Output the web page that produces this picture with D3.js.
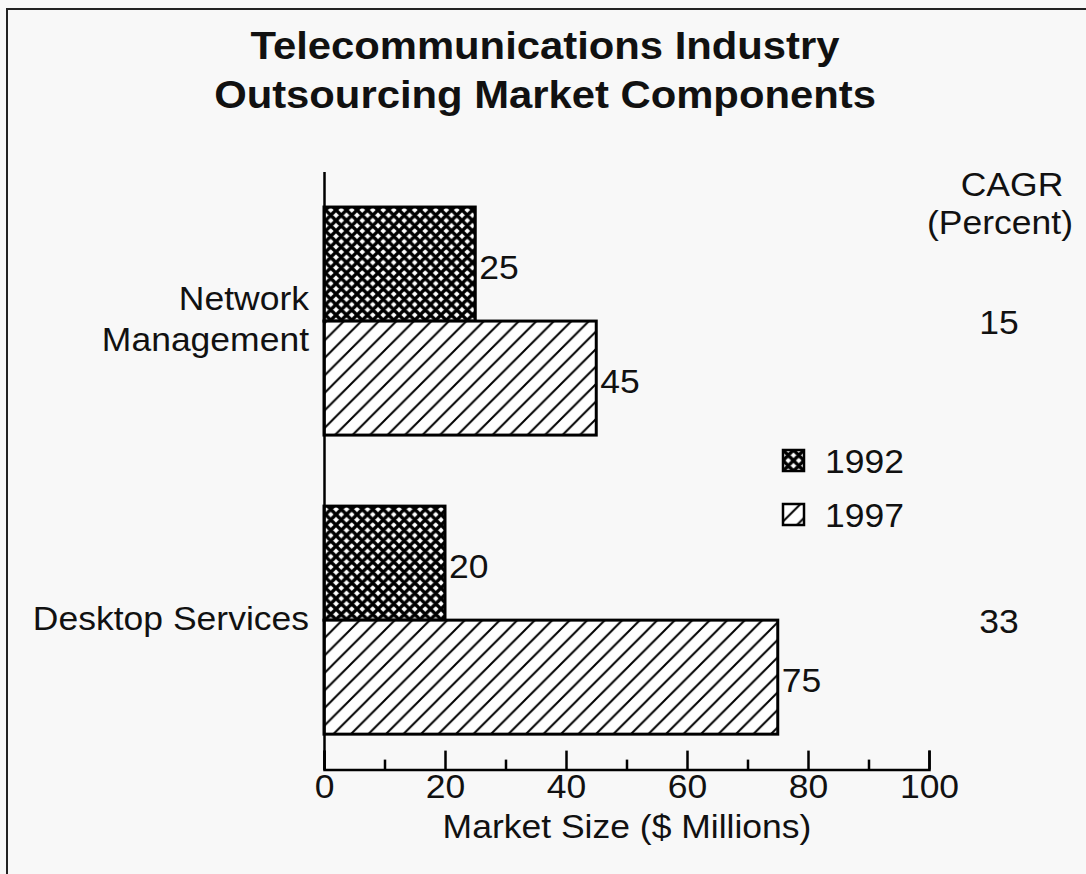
<!DOCTYPE html>
<html>
<head>
<meta charset="utf-8">
<script src="https://cdn.jsdelivr.net/npm/d3@7"></script>
<style>
  html, body { margin: 0; padding: 0; background: #f8f8f8; }
  svg { display: block; }
  text { font-family: "Liberation Sans", Arial, Helvetica, sans-serif; fill: #111; }
</style>
</head>
<body>
<svg id="chart" width="1086" height="874"></svg>
<script>
// ---- data ----
const categories = ["Network Management", "Desktop Services"];
const categoryLines = [["Network", "Management"], ["Desktop Services"]];
const years = ["1992", "1997"];
const values1992 = [25, 20];
const values1997 = [45, 75];
const cagr = [15, 33];
const majorTicks = [0, 20, 40, 60, 80, 100];
const minorTicks = [10, 30, 50, 70, 90];
const titleLines = ["Telecommunications Industry", "Outsourcing Market Components"];
const xTitle = "Market Size ($ Millions)";
const cagrTitle = ["CAGR", "(Percent)"];

const svg = d3.select("#chart");
const W = 1086, H = 874;
const FS = 33.5, SX = 1.06;        // body font size and horizontal stretch
const TFS = 38, TSX = 1.1;         // title

svg.append("rect").attr("width", W).attr("height", H).attr("fill", "#f8f8f8");
svg.append("rect").attr("x", 7).attr("y", 9).attr("width", W + 20).attr("height", H + 20)
  .attr("fill", "none").attr("stroke", "#222").attr("stroke-width", 2);

function addText(parent, x, y, str, opts = {}) {
  const t = parent.append("text")
    .attr("transform", `translate(${x},${y}) scale(${opts.sx || SX},1)`)
    .attr("dy", "0.35em")
    .attr("text-anchor", opts.anchor || "start")
    .attr("font-size", opts.size || FS)
    .text(str);
  if (opts.weight) t.attr("font-weight", opts.weight);
  return t;
}

// patterns
const defs = svg.append("defs");
const cross = defs.append("pattern").attr("id", "cross").attr("patternUnits", "userSpaceOnUse")
  .attr("width", 10.5).attr("height", 10.5);
cross.append("rect").attr("width", 10.5).attr("height", 10.5).attr("fill", "#fff");
cross.append("path").attr("d", "M0,0 L10.5,10.5 M10.5,0 L0,10.5 M-5.25,5.25 L0,10.5 M5.25,-5.25 L10.5,0 M-5.25,5.25 L0,0 M5.25,15.75 L10.5,10.5")
  .attr("stroke", "#000").attr("stroke-width", 3.4);
const hatch = defs.append("pattern").attr("id", "hatch").attr("patternUnits", "userSpaceOnUse")
  .attr("width", 17.5).attr("height", 17.5);
hatch.append("rect").attr("width", 17.5).attr("height", 17.5).attr("fill", "#fff");
hatch.append("path").attr("d", "M0,17.5 L17.5,0 M-4,4 L4,-4 M13.5,21.5 L21.5,13.5")
  .attr("stroke", "#000").attr("stroke-width", 2);
const fills = {"1992": "url(#cross)", "1997": "url(#hatch)"};

// scales
const x = d3.scaleLinear().domain([0, 100]).range([324, 929]);
const y = d3.scaleBand().domain(categories).range([171.6, 769.6]).paddingInner(0.2375).paddingOuter(0.1185);
const yInner = d3.scaleBand().domain(years).range([0, y.bandwidth()]);

const rows = [];
categories.forEach((c, i) => {
  rows.push({cat: c, year: "1992", v: values1992[i]});
  rows.push({cat: c, year: "1997", v: values1997[i]});
});

// bars
svg.append("g").selectAll("rect").data(rows).join("rect")
  .attr("x", x(0))
  .attr("y", d => y(d.cat) + yInner(d.year))
  .attr("width", d => x(d.v) - x(0))
  .attr("height", yInner.bandwidth())
  .attr("fill", d => fills[d.year])
  .attr("stroke", "#000").attr("stroke-width", 3);

// value labels
const gv = svg.append("g");
rows.forEach(d => addText(gv, x(d.v) + 4, y(d.cat) + yInner(d.year) + yInner.bandwidth() / 2 + 3, d.v));

// x axis
const axisY = 769.6;
const gx = svg.append("g").attr("transform", `translate(0,${axisY})`)
  .call(d3.axisBottom(x).tickValues(majorTicks).tickSizeInner(-19).tickSizeOuter(-19).tickPadding(5));
gx.select(".domain").attr("stroke", "#000").attr("stroke-width", 2.5);
gx.selectAll(".tick line").attr("stroke", "#000").attr("stroke-width", 2.5);
gx.selectAll(".tick text").attr("font-size", FS).attr("font-family", "Liberation Sans, Arial, sans-serif")
  .attr("fill", "#111").attr("transform", `scale(${SX},1)`);
const gxm = svg.append("g").attr("transform", `translate(0,${axisY})`)
  .call(d3.axisBottom(x).tickValues(minorTicks).tickSize(-10).tickFormat(""));
gxm.select(".domain").remove();
gxm.selectAll(".tick line").attr("stroke", "#000").attr("stroke-width", 2.5);

// y axis line
const gy = svg.append("g").attr("transform", `translate(${x(0)},0)`)
  .call(d3.axisLeft(y).tickSize(0).tickFormat(""));
gy.select(".domain").attr("stroke", "#000").attr("stroke-width", 2.5);

// category labels
const gc = svg.append("g");
categories.forEach((c, i) => {
  const lines = categoryLines[i];
  const cy = y(c) + y.bandwidth() / 2;
  const lh = 41;
  lines.forEach((ln, j) => addText(gc, 309, cy + (j - (lines.length - 1) / 2) * lh - 2, ln, {anchor: "end"}));
});

// CAGR column
const gk = svg.append("g");
addText(gk, 1012, 184, cagrTitle[0], {anchor: "middle"});
addText(gk, 1000, 222, cagrTitle[1], {anchor: "middle"});
categories.forEach((c, i) => addText(gk, 999, y(c) + y.bandwidth() / 2 + 1, cagr[i], {anchor: "middle"}));

// legend
const lg = svg.append("g").attr("transform", "translate(783,450)");
years.forEach((yr, i) => {
  const g = lg.append("g").attr("transform", `translate(0,${i * 54})`);
  g.append("rect").attr("x", 0).attr("y", 0).attr("width", 21).attr("height", 21)
    .attr("fill", fills[yr]).attr("stroke", "#000").attr("stroke-width", 2.5);
  addText(g, 42, 11, yr);
});

// title
const gt = svg.append("g");
titleLines.forEach((ln, i) => addText(gt, 545, 46 + i * 49, ln, {anchor: "middle", size: TFS, sx: TSX, weight: "bold"}));

// x title
addText(svg, 627, 826, xTitle, {anchor: "middle"});
</script>
</body>
</html>
